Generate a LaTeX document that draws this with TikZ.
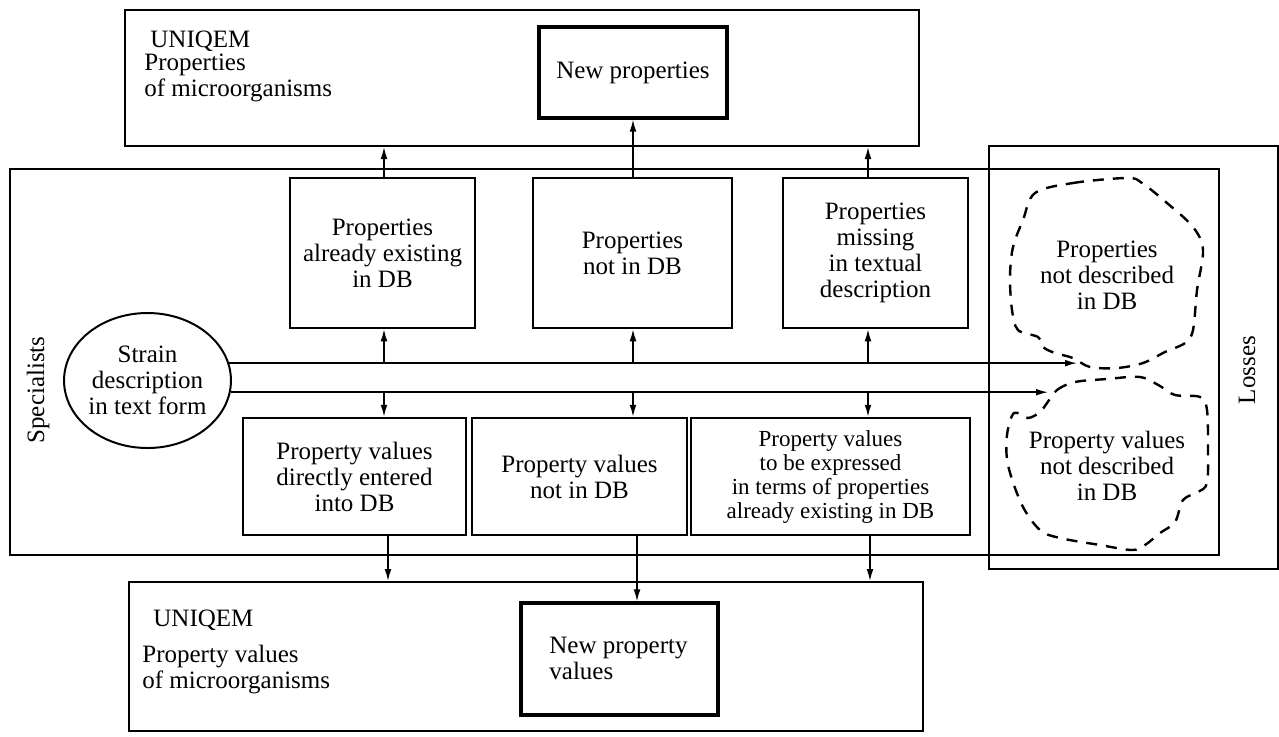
\documentclass[tikz,border=0pt]{standalone}
\usepackage{fontspec}
\setmainfont{Liberation Serif}
\usetikzlibrary{arrows.meta,shapes.geometric,calc}
\begin{document}
\begin{tikzpicture}[x=0.5pt,y=-0.5pt,
  every node/.style={font=\fontsize{12.5}{13}\selectfont, align=center},
  bigbox/.style={draw, line width=1pt, inner sep=0pt},
  ibox/.style={draw, line width=1.25pt, inner sep=0pt},
  newbox/.style={draw, line width=1.6pt, inner sep=0pt},
  arr/.style={line width=0.75pt, -{Latex[length=6pt,width=3.4pt]}},
  conn/.style={line width=0.75pt},
  blob/.style={line width=1.2pt, dash pattern=on 5.5pt off 4.5pt},
  lbl/.style={anchor=west, inner sep=0pt, align=left}]
\useasboundingbox (0,0) rectangle (1279,736);
\fill[white] (0,0) rectangle (1279,736);

% big frames
\node[bigbox, minimum width=397pt, minimum height=68pt] (T) at (522,78) {};
\node[bigbox, minimum width=604.5pt, minimum height=193pt] (S) at (614.5,362) {};
\node[bigbox, minimum width=144.5pt, minimum height=211.5pt] (L) at (1133.5,357.5) {};
\node[bigbox, minimum width=397pt, minimum height=74.5pt] (BB) at (526,656.5) {};

% texts in top and bottom frames
\node[lbl] (tU) at (150,41) {UNIQEM};
\node[lbl] (tP) at (144,78) {Properties\\of microorganisms};
\node[lbl] (bU) at (153,620) {UNIQEM};
\node[lbl] (bP) at (142,670) {Property values\\of microorganisms};

\node[newbox, minimum width=94pt, minimum height=45.5pt] (NP) at (633,72.5) {New properties};
\node[newbox, minimum width=98.5pt, minimum height=56pt] (NPV) at (619.5,659) {};
\node[lbl] (NPVt) at (549,658) {New property\\values};

% top row
\node[ibox, minimum width=92.5pt, minimum height=75pt] (B1) at (382.5,253) {Properties\\already existing\\in DB};
\node[ibox, minimum width=99.5pt, minimum height=75pt] (B2) at (632.5,253) {Properties\\not in DB};
\node[ibox, minimum width=92.5pt, minimum height=75pt] (B3) at (875.5,253) {Properties\\missing\\in textual\\description};

% bottom row
\node[ibox, minimum width=111.5pt, minimum height=58.5pt] (C1) at (354.5,476.5) {Property values\\directly entered\\into DB};
\node[ibox, minimum width=107.5pt, minimum height=58.5pt] (C2) at (579.5,476.5) {Property values\\not in DB};
\node[ibox, minimum width=139.5pt, minimum height=58.5pt, font=\fontsize{11.5}{12}\selectfont] (C3) at (830.5,476.5) {Property values\\to be expressed\\in terms of properties\\already existing in DB};

% ellipse
\node[draw, ellipse, line width=1pt, inner sep=0pt, minimum width=82.5pt, minimum height=67.5pt] (E) at (147.5,380.5) {Strain\\description\\in text form};

% rotated labels
\node[rotate=90] (spec) at (38,390) {Specialists};
\node[rotate=90] (loss) at (1247,370) {Losses};

% blobs
\draw[blob] plot[smooth cycle, tension=0.55] coordinates {(1035,193) (1073,183) (1127,178) (1142,183) (1167,203) (1193,227) (1203,250) (1197,290) (1193,330) (1185,343) (1165,352) (1143,363) (1117,368) (1090,367) (1073,358) (1055,353) (1043,347) (1038,337) (1018,330) (1012,310) (1010,277) (1013,247) (1023,220)};
\draw[blob] plot[smooth cycle, tension=0.55] coordinates {(1047,403) (1057,390) (1075,382) (1107,379) (1140,377) (1160,386) (1175,395) (1200,397) (1207,410) (1208,450) (1207,483) (1198,492) (1183,500) (1175,522) (1160,533) (1145,545) (1132,550) (1100,545) (1060,538) (1040,530) (1022,505) (1008,465) (1007,435) (1014,413) (1028,418) (1040,412)};
\node (b1t) at (1107,275) {Properties\\not described\\in DB};
\node (b2t) at (1107,466) {Property values\\not described\\in DB};

% horizontal lines from the strain description
\coordinate (h1) at (1077,363);
\coordinate (h2) at (1048,393);
\draw[arr] (E.12.4) -- (E.12.4 -| h1);
\draw[arr] (E.-8.8) -- (E.-8.8 -| h2);

% junctions
\coordinate (j1) at (384,363);
\coordinate (j2) at (633,363);
\coordinate (j3) at (868,363);
\coordinate (k1) at (384,393);
\coordinate (k2) at (633,393);
\coordinate (k3) at (868,393);
\draw[arr] (j1) -- (j1 |- B1.south);
\draw[arr] (j2) -- (j2 |- B2.south);
\draw[arr] (j3) -- (j3 |- B3.south);
\draw[arr] (k1) -- (k1 |- C1.north);
\draw[arr] (k2) -- (k2 |- C2.north);
\draw[arr] (k3) -- (k3 |- C3.north);

% up to the top frame
\draw[arr] (j1 |- B1.north) -- (j1 |- T.south);
\draw[arr] (j2 |- B2.north) -- (j2 |- NP.south);
\draw[arr] (j3 |- B3.north) -- (j3 |- T.south);

% down to the bottom frame
\coordinate (m1) at (388,560);
\coordinate (m2) at (637,560);
\coordinate (m3) at (870,560);
\draw[arr] (m1 |- C1.south) -- (m1 |- BB.north);
\draw[arr] (m2 |- C2.south) -- (m2 |- NPV.north);
\draw[arr] (m3 |- C3.south) -- (m3 |- BB.north);
\end{tikzpicture}
\end{document}
